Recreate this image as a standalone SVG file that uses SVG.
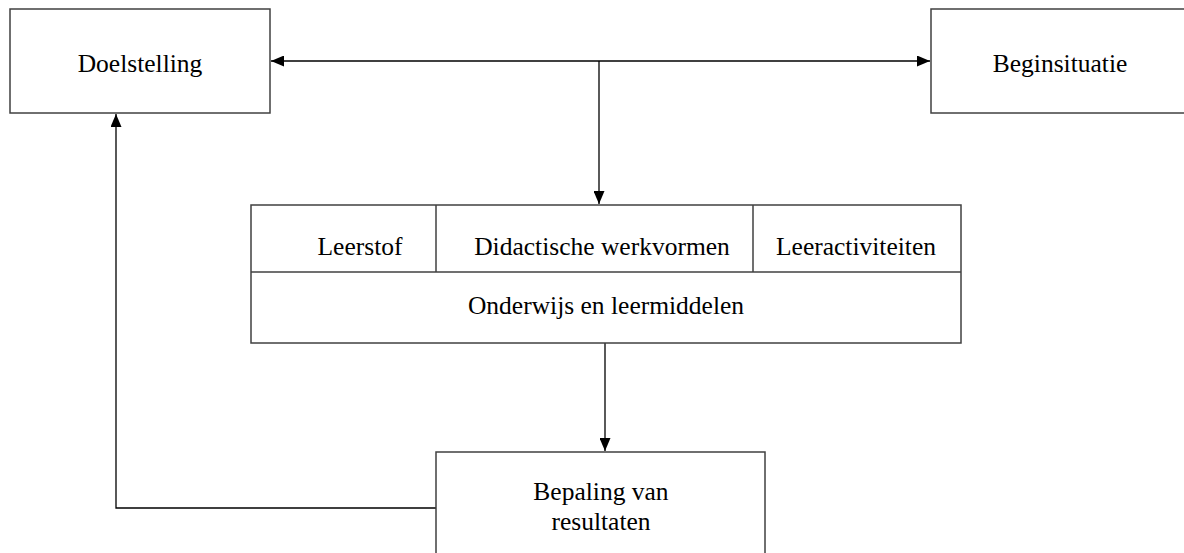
<svg xmlns="http://www.w3.org/2000/svg" width="1184" height="553" viewBox="0 0 1184 553">
<style>
.box{fill:#fff;stroke:#404040;stroke-width:1.5}
.ln{fill:none;stroke:#000;stroke-width:1.3}
text{font-family:"Liberation Serif","Times New Roman",serif;font-size:25.5px;fill:#000;text-anchor:middle}
</style>
<defs>
<marker id="ah" viewBox="0 0 13 11" refX="13" refY="5.5" markerWidth="13" markerHeight="11" markerUnits="userSpaceOnUse" orient="auto-start-reverse">
<path d="M0,0 L13,5.5 L0,11 Z" fill="#000"/>
</marker>
</defs>
<rect width="1184" height="553" fill="#fff"/>
<g id="connectors">
<line class="ln" x1="271" y1="61" x2="930" y2="61" marker-start="url(#ah)" marker-end="url(#ah)"/>
<path class="ln" d="M599,61 L599,204" marker-end="url(#ah)"/>
<path class="ln" d="M605,343 L605,451" marker-end="url(#ah)"/>
<path class="ln" d="M436,508 L116,508 L116,114" marker-end="url(#ah)"/>
</g>
<g id="doelstelling">
<rect class="box" x="10" y="9" width="260" height="104"/>
<text x="140" y="72">Doelstelling</text>
</g>
<g id="beginsituatie">
<rect class="box" x="931" y="9" width="260" height="104"/>
<text x="1060" y="72">Beginsituatie</text>
</g>
<g id="onderwijs">
<rect class="box" x="251" y="205" width="710" height="138"/>
<line class="box" x1="251" y1="272" x2="961" y2="272"/>
<line class="box" x1="436" y1="205" x2="436" y2="272"/>
<line class="box" x1="753" y1="205" x2="753" y2="272"/>
<text x="360" y="255">Leerstof</text>
<text x="602" y="255">Didactische werkvormen</text>
<text x="856" y="255">Leeractiviteiten</text>
<text x="606" y="314">Onderwijs en leermiddelen</text>
</g>
<g id="bepaling">
<rect class="box" x="436" y="452" width="329" height="120"/>
<text x="601" y="500">Bepaling van</text>
<text x="601" y="530">resultaten</text>
</g>
</svg>
